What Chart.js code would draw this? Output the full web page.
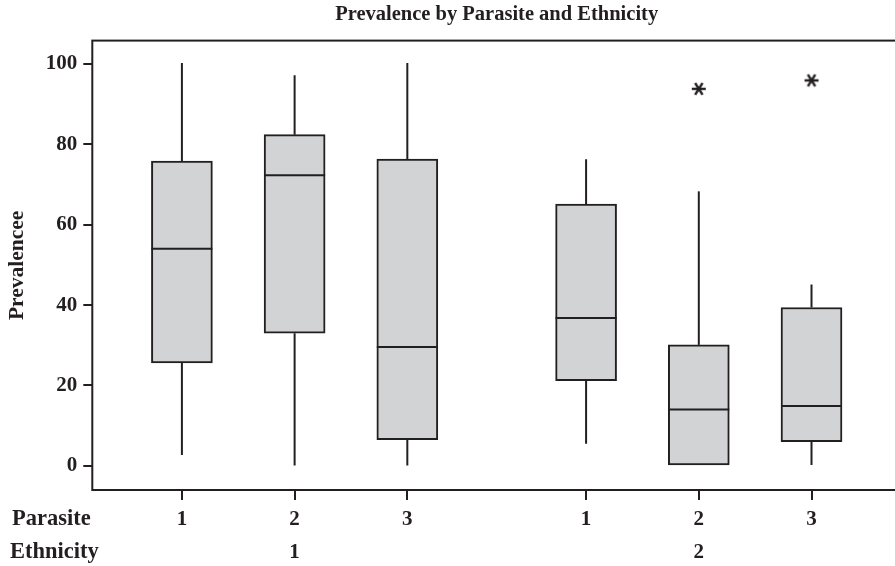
<!DOCTYPE html>
<html>
<head>
<meta charset="utf-8">
<script src="https://cdn.jsdelivr.net/npm/chart.js@4/dist/chart.umd.min.js"></script>
<style>
  html, body { margin: 0; padding: 0; background: #fff; overflow: hidden; width: 895px; height: 566px; }
  #wrap { position: absolute; left: 0; top: 0; width: 910px; height: 566px; }
</style>
</head>
<body>
<div id="wrap"><canvas id="c" width="910" height="566"></canvas></div>
<script>
// ---- data ----
const ethnicities = ['1', '2'];
const parasites = ['1', '2', '3'];
const whiskerLow  = [2.7, 0.1, 0.1, 5.5, 0.25, 0.25];
const q1          = [25.6, 33.0, 6.5, 21.2, 0.25, 6.05];
const median      = [54.0, 72.3, 29.6, 36.8, 14.0, 14.9];
const q3          = [75.8, 82.4, 76.3, 65.1, 30.1, 39.4];
const whiskerHigh = [100.2, 97.2, 100.2, 76.3, 68.3, 45.1];
const outliers    = [[], [], [], [], [93.8], [95.9]];
const yTicks      = [0, 20, 40, 60, 80, 100];

// ---- layout helpers ----
const groupGap = 0.586;
const positions = [];
ethnicities.forEach((e, ei) => parasites.forEach((p, pi) => {
  positions.push(ei * (parasites.length + groupGap) + pi + 1);
}));

const INK = '#231f20';
const FILL = '#d1d3d4';
const FONT = 'Liberation Serif';

const boxData = positions.map((x, i) => ({ x: x, y: [q1[i], q3[i]] }));
const outlierData = [];
outliers.forEach((arr, i) => arr.forEach(v => outlierData.push({ x: positions[i], y: v })));

// asterisk marker
const star = document.createElement('canvas');
star.width = 18; star.height = 18;
(function () {
  const g = star.getContext('2d');
  g.strokeStyle = INK; g.lineWidth = 2.4; g.lineCap = 'butt';
  const cx = 9, cy = 9, r = 7;
  [0, 58, 122].forEach(a => {
    const t = a * Math.PI / 180;
    g.beginPath();
    g.moveTo(cx - r * Math.cos(t), cy - r * Math.sin(t));
    g.lineTo(cx + r * Math.cos(t), cy + r * Math.sin(t));
    g.stroke();
  });
})();

const boxPlugin = {
  id: 'boxParts',
  beforeDatasetsDraw(chart) {
    const ctx = chart.ctx, ys = chart.scales.y;
    const meta = chart.getDatasetMeta(0);
    ctx.save();
    ctx.strokeStyle = INK; ctx.lineWidth = 2;
    meta.data.forEach((el, i) => {
      const x = el.x;
      ctx.beginPath();
      ctx.moveTo(x, ys.getPixelForValue(q3[i]));
      ctx.lineTo(x, ys.getPixelForValue(whiskerHigh[i]));
      ctx.moveTo(x, ys.getPixelForValue(q1[i]));
      ctx.lineTo(x, ys.getPixelForValue(whiskerLow[i]));
      ctx.stroke();
    });
    ctx.restore();
  },
  afterDatasetsDraw(chart) {
    const ctx = chart.ctx, ys = chart.scales.y;
    const meta = chart.getDatasetMeta(0);
    ctx.save();
    ctx.strokeStyle = INK; ctx.lineWidth = 2;
    meta.data.forEach((el, i) => {
      const y = ys.getPixelForValue(median[i]);
      ctx.beginPath();
      ctx.moveTo(el.x - el.width / 2, y);
      ctx.lineTo(el.x + el.width / 2, y);
      ctx.stroke();
    });
    // frame
    const a = chart.chartArea;
    ctx.lineWidth = 2;
    ctx.strokeRect(a.left, a.top, a.right - a.left, a.bottom - a.top);
    // row labels
    ctx.fillStyle = INK;
    ctx.font = 'bold 22.5px "' + FONT + '"';
    ctx.textAlign = 'left';
    ctx.textBaseline = 'middle';
    ctx.fillText('Parasite', 12, 519);
    ctx.fillText('Ethnicity', 10, 552);
    ctx.restore();
  }
};

new Chart(document.getElementById('c'), {
  type: 'bar',
  data: {
    datasets: [
      {
        type: 'bar',
        data: boxData,
        backgroundColor: FILL,
        borderColor: INK,
        borderWidth: 2,
        borderSkipped: false,
        barThickness: 61
      },
      {
        type: 'scatter',
        data: outlierData,
        pointStyle: star,
        pointRadius: 8,
        borderColor: INK,
        backgroundColor: INK
      }
    ]
  },
  plugins: [boxPlugin],
  options: {
    responsive: false,
    animation: false,
    events: [],
    layout: { padding: { left: 0, right: 8.5, top: 0, bottom: 0 } },
    plugins: {
      legend: { display: false },
      tooltip: { enabled: false },
      title: {
        display: true,
        fullSize: false,
        text: 'Prevalence by Parasite and Ethnicity',
        color: INK,
        font: { family: FONT, size: 20.5, weight: 'bold' },
        padding: { top: 2, bottom: 14 }
      }
    },
    scales: {
      x: {
        type: 'linear',
        offset: false,
        min: 0.205,
        max: 7.38,
        afterBuildTicks(scale) { scale.ticks = positions.map(v => ({ value: v })); },
        afterFit(scale) { scale.height = 76; },
        ticks: {
          autoSkip: false,
          maxRotation: 0,
          color: INK,
          padding: 3,
          font: { family: FONT, size: 21, weight: 'bold', lineHeight: 1.57 },
          callback(value, index) {
            const pi = index % parasites.length;
            const ei = Math.floor(index / parasites.length);
            return [parasites[pi], pi === 1 ? ethnicities[ei] : ''];
          }
        },
        grid: { display: true, offset: false, drawOnChartArea: false, drawTicks: true, tickLength: 10, color: INK, lineWidth: 2 },
        border: { display: false }
      },
      y: {
        min: -6,
        max: 105.8,
        afterBuildTicks(scale) { scale.ticks = yTicks.map(v => ({ value: v })); },
        afterFit(scale) { scale.width = 92.3; },
        ticks: {
          color: INK,
          padding: 6,
          font: { family: FONT, size: 21, weight: 'bold' }
        },
        grid: { display: true, drawOnChartArea: false, drawTicks: true, tickLength: 9, color: INK, lineWidth: 2 },
        border: { display: false },
        title: {
          display: true,
          text: 'Prevalencee',
          color: INK,
          font: { family: FONT, size: 21.5, weight: 'bold' },
          padding: { top: 5, bottom: 0 }
        }
      }
    }
  }
});
</script>
</body>
</html>
